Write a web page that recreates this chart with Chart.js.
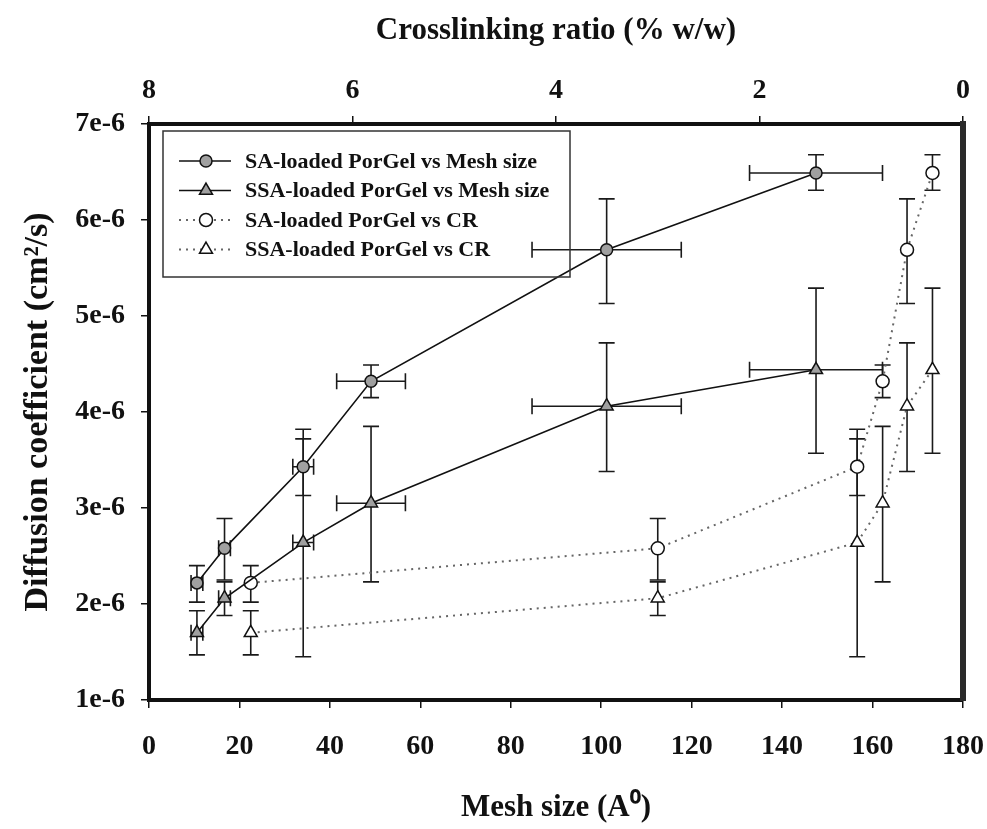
<!DOCTYPE html>
<html lang="en">
<head>
<meta charset="UTF-8">
<title>Diffusion coefficient vs mesh size and crosslinking ratio</title>
<script src="https://cdn.jsdelivr.net/npm/chart.js"></script>
<style>
    body { margin: 0; background: #fff; }
    .chart-container { position: relative; width: 987px; height: 829px; }
</style>
</head>
<body>
<div class="chart-container"><canvas id="diffChart"></canvas></div>
<script>
// mesh size (A0) and crosslinking ratio (% w/w) of the six gels
const meshSize = [10.6, 16.7, 34.1, 49.1, 101.2, 147.5];
const meshSizeErr = [1.3, 1.3, 2.3, 7.6, 16.5, 14.7];
const crosslinkRatio = [7.0, 3.0, 1.04, 0.79, 0.55, 0.3];

// diffusion coefficients (cm2/s) with upper / lower error limits
const saDiffusion = [2.22e-6, 2.58e-6, 3.43e-6, 4.32e-6, 5.69e-6, 6.49e-6];
const saUpper = [2.40e-6, 2.89e-6, 3.82e-6, 4.49e-6, 6.22e-6, 6.68e-6];
const saLower = [2.02e-6, 2.25e-6, 3.13e-6, 4.15e-6, 5.13e-6, 6.31e-6];
const ssaDiffusion = [1.70e-6, 2.06e-6, 2.64e-6, 3.05e-6, 4.06e-6, 4.44e-6];
const ssaUpper = [1.93e-6, 2.23e-6, 3.72e-6, 3.85e-6, 4.72e-6, 5.29e-6];
const ssaLower = [1.47e-6, 1.88e-6, 1.45e-6, 2.23e-6, 3.38e-6, 3.57e-6];

const meshTicks = [0, 20, 40, 60, 80, 100, 120, 140, 160, 180];
const ratioTicks = [8, 6, 4, 2, 0];
const diffTicks = [1e-6, 2e-6, 3e-6, 4e-6, 5e-6, 6e-6, 7e-6];

const seriesLabels = [
    'SA-loaded PorGel vs Mesh size',
    'SSA-loaded PorGel vs Mesh size',
    'SA-loaded PorGel vs CR',
    'SSA-loaded PorGel vs CR'
];

Chart.defaults.font.family = "'Liberation Serif', 'Times New Roman', serif";
Chart.defaults.font.weight = 'bold';
Chart.defaults.color = '#111';

function points(xs, ys) {
    return xs.map((x, i) => ({ x: x, y: ys[i] }));
}

const solid = { showLine: true, borderColor: '#111', borderWidth: 1.6, pointBorderColor: '#111', pointBorderWidth: 1.5 };
const dotted = { showLine: true, borderColor: '#666', borderWidth: 2, borderDash: [2, 5], pointBorderColor: '#111', pointBorderWidth: 1.5 };

const datasets = [
    Object.assign({
        label: seriesLabels[0], data: points(meshSize, saDiffusion), xAxisID: 'x',
        upper: saUpper, lower: saLower, xErr: meshSizeErr,
        pointStyle: 'circle', pointRadius: 6, pointBackgroundColor: '#a0a0a0'
    }, solid),
    Object.assign({
        label: seriesLabels[1], data: points(meshSize, ssaDiffusion), xAxisID: 'x',
        upper: ssaUpper, lower: ssaLower, xErr: meshSizeErr,
        pointStyle: 'triangle', pointRadius: 7.5, pointBackgroundColor: '#a0a0a0'
    }, solid),
    Object.assign({
        label: seriesLabels[2], data: points(crosslinkRatio, saDiffusion), xAxisID: 'x2',
        upper: saUpper, lower: saLower,
        pointStyle: 'circle', pointRadius: 6.5, pointBackgroundColor: '#fff'
    }, dotted),
    Object.assign({
        label: seriesLabels[3], data: points(crosslinkRatio, ssaDiffusion), xAxisID: 'x2',
        upper: ssaUpper, lower: ssaLower,
        pointStyle: 'triangle', pointRadius: 7.5, pointBackgroundColor: '#fff'
    }, dotted)
];

// vertical (and for mesh size, horizontal) error bars with caps
const errorBars = {
    id: 'errorBars',
    beforeDatasetsDraw(chart) {
        const ctx = chart.ctx;
        const ys = chart.scales.y;
        const cap = 8;
        ctx.save();
        ctx.strokeStyle = '#1a1a1a';
        ctx.lineWidth = 1.6;
        chart.data.datasets.forEach(ds => {
            const xs = chart.scales[ds.xAxisID];
            ds.data.forEach((p, i) => {
                const px = xs.getPixelForValue(p.x);
                const py = ys.getPixelForValue(p.y);
                const top = ys.getPixelForValue(ds.upper[i]);
                const bot = ys.getPixelForValue(ds.lower[i]);
                ctx.beginPath();
                ctx.moveTo(px, top); ctx.lineTo(px, bot);
                ctx.moveTo(px - cap, top); ctx.lineTo(px + cap, top);
                ctx.moveTo(px - cap, bot); ctx.lineTo(px + cap, bot);
                if (ds.xErr) {
                    const l = xs.getPixelForValue(p.x - ds.xErr[i]);
                    const r = xs.getPixelForValue(p.x + ds.xErr[i]);
                    ctx.moveTo(l, py); ctx.lineTo(r, py);
                    ctx.moveTo(l, py - cap); ctx.lineTo(l, py + cap);
                    ctx.moveTo(r, py - cap); ctx.lineTo(r, py + cap);
                }
                ctx.stroke();
            });
        });
        ctx.restore();
    }
};

// boxed legend in the upper left of the plot
const boxLegend = {
    id: 'boxLegend',
    afterDraw(chart) {
        const ctx = chart.ctx;
        const area = chart.chartArea;
        const left = area.left + 14, top = area.top + 7;
        ctx.save();
        ctx.strokeStyle = '#333';
        ctx.lineWidth = 1.5;
        ctx.strokeRect(left, top, 407, 146);
        ctx.font = "bold 22px 'Liberation Serif', serif";
        ctx.textBaseline = 'middle';
        chart.data.datasets.forEach((ds, i) => {
            const y = top + 30 + i * 29.5;
            const mx = left + 43;
            ctx.strokeStyle = ds.borderColor;
            ctx.lineWidth = ds.borderWidth;
            ctx.setLineDash(ds.borderDash || []);
            ctx.beginPath();
            ctx.moveTo(left + 16, y); ctx.lineTo(left + 68, y);
            ctx.stroke();
            ctx.setLineDash([]);
            ctx.fillStyle = ds.pointBackgroundColor;
            ctx.strokeStyle = ds.pointBorderColor;
            ctx.lineWidth = ds.pointBorderWidth;
            Chart.helpers.drawPoint(ctx, { pointStyle: ds.pointStyle, radius: ds.pointRadius, borderWidth: ds.pointBorderWidth }, mx, y);
            ctx.fillStyle = '#111';
            ctx.fillText(ds.label, left + 82, y + 1);
        });
        ctx.restore();
    }
};

const tickMarks = { drawOnChartArea: false, tickLength: 8, lineWidth: 1.5, color: '#111' };

// keep edge tick labels from shrinking the plot area
function fixHeight(h) {
    return axis => { axis.height = h; axis.paddingLeft = 0; axis.paddingRight = 0; };
}

new Chart(document.getElementById('diffChart'), {
    type: 'scatter',
    data: { datasets: datasets },
    options: {
        responsive: true,
        maintainAspectRatio: false,
        animation: false,
        layout: { padding: 0 },
        plugins: { legend: { display: false }, tooltip: { enabled: false } },
        scales: {
            x: {
                type: 'linear', position: 'bottom', min: 0, max: 180,
                afterBuildTicks: axis => { axis.ticks = meshTicks.map(v => ({ value: v })); },
                afterFit: fixHeight(129),
                ticks: { font: { size: 28 }, padding: 22, maxRotation: 0, autoSkip: false },
                grid: tickMarks,
                border: { width: 4, color: '#111' },
                title: { display: true, text: 'Mesh size (A\u2070)', font: { size: 31 }, padding: { top: 0, bottom: 2 } }
            },
            x2: {
                type: 'linear', position: 'top', min: 0, max: 8, reverse: true,
                afterBuildTicks: axis => { axis.ticks = ratioTicks.map(v => ({ value: v })); },
                afterFit: fixHeight(124),
                ticks: { font: { size: 28 }, padding: 8, maxRotation: 0, autoSkip: false },
                grid: tickMarks,
                border: { width: 4, color: '#111' },
                title: { display: true, text: 'Crosslinking ratio (% w/w)', font: { size: 31 }, padding: { top: 12, bottom: 0 } }
            },
            y: {
                type: 'linear', position: 'left', min: 1e-6, max: 7e-6,
                afterBuildTicks: axis => { axis.ticks = diffTicks.map(v => ({ value: v })); },
                afterFit: axis => { axis.width = 149; axis.paddingTop = 0; axis.paddingBottom = 0; },
                ticks: { font: { size: 28 }, padding: 16, autoSkip: false, callback: v => Math.round(v * 1e6) + 'e-6' },
                grid: tickMarks,
                border: { width: 4, color: '#111' },
                title: { display: true, text: 'Diffusion coefficient (cm\u00b2/s)', font: { size: 34 }, padding: { top: 18, bottom: 0 } }
            },
            yRight: {
                type: 'linear', position: 'right', min: 0, max: 1,
                afterFit: axis => { axis.width = 24; },
                ticks: { display: false },
                grid: { display: false },
                border: { width: 6, color: '#2a2a2a' }
            }
        }
    },
    plugins: [errorBars, boxLegend]
});
</script>
</body>
</html>
